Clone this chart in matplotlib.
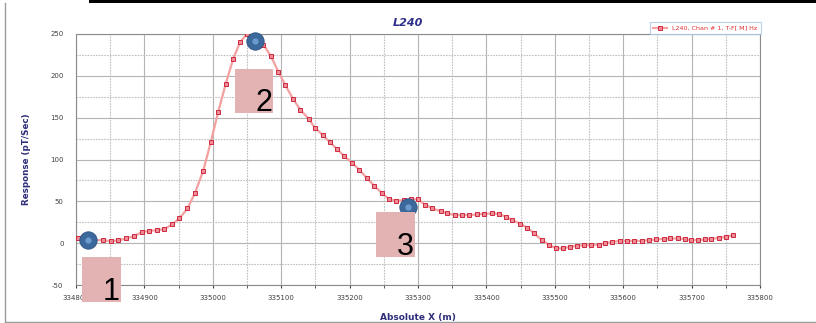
import numpy as np
import matplotlib
matplotlib.use("Agg")
from matplotlib import pyplot as plt
from matplotlib.patches import Rectangle

plt.rcParams['axes.unicode_minus'] = False

# survey stations (Absolute X, m) and channel response (pT/Sec)
x_abs = [334803, 334815, 334827, 334839, 334851, 334862, 334873, 334885, 334896, 334907,
         334918, 334929, 334941, 334951, 334963, 334974, 334986, 334997, 335008, 335019,
         335030, 335040, 335050, 335062, 335074, 335085, 335096, 335106, 335117, 335128,
         335140, 335149, 335161, 335171, 335182, 335192, 335203, 335214, 335225, 335236,
         335247, 335257, 335268, 335279, 335290, 335300, 335310, 335321, 335333, 335343,
         335354, 335365, 335375, 335386, 335397, 335408, 335418, 335429, 335438, 335449,
         335460, 335470, 335481, 335491, 335502, 335512, 335522, 335532, 335543, 335553,
         335564, 335574, 335584, 335595, 335606, 335616, 335627, 335638, 335648, 335659,
         335669, 335680, 335691, 335699, 335709, 335719, 335729, 335740, 335750, 335761]
response = [5.6, 4.2, 3.6, 3.6, 2.4, 3.2, 5.6, 8.4, 13.1, 14.7,
            15.5, 16.7, 22.7, 29.5, 41.5, 60.1, 86.4, 120.7, 157.1, 190.8,
            220.7, 240.5, 250.0, 247.0, 237.4, 223.4, 204.7, 188.8, 172.9, 159.5,
            148.7, 138.2, 129.0, 120.7, 112.3, 104.0, 96.4, 88.0, 78.0, 68.5,
            60.1, 52.9, 50.5, 51.4, 52.6, 52.2, 46.2, 41.5, 38.2, 35.5,
            33.5, 33.5, 33.5, 34.3, 35.0, 35.5, 35.0, 31.4, 27.5, 23.5,
            18.3, 11.6, 3.6, -1.6, -6.3, -6.3, -4.4, -3.2, -2.4, -2.4,
            -1.6, 0.0, 1.6, 2.7, 2.7, 2.7, 2.7, 3.6, 4.4, 5.1,
            5.6, 5.6, 4.8, 3.6, 3.6, 4.4, 5.1, 6.3, 7.5, 9.6]

x_ticks = [334800, 334900, 335000, 335100, 335200, 335300, 335400, 335500, 335600, 335700, 335800]
y_ticks = [-50, 0, 50, 100, 150, 200, 250]
series_label = "L240, Chan # 1, T-F[ M] Hz"
pick_names = ["1", "2", "3"]

W, H = 816, 323
fig = plt.figure(figsize=(W / 100, H / 100), dpi=100)
fig.patch.set_facecolor("white")

def fx(px):
    return px / W

def fy(py):
    return 1 - py / H

ax = fig.add_axes([fx(76), fy(285), fx(760) - fx(76), fy(34) - fy(285)])

ax.plot(x_abs, response, color="#f4a0a0", lw=1.6, marker="s", ms=3.2,
        mfc="#f08c96", mec="#cc2a40", mew=0.7, label=series_label, zorder=3)

ax.set_xlim(334800, 335800)
ax.set_ylim(-50, 250)
ax.set_xticks(x_ticks)
ax.set_yticks(y_ticks)
ax.set_xticks(np.arange(334850, 335800, 100), minor=True)
ax.set_yticks(np.arange(-25, 250, 50), minor=True)
ax.grid(True, which="major", color="#b4b4b4", lw=0.8)
ax.grid(True, which="minor", color="#c0c0c0", lw=0.8, ls=(0, (1.5, 1)))
ax.set_axisbelow(True)
ax.tick_params(axis="both", which="both", labelsize=5, colors="#404040", length=2, pad=5)
ax.tick_params(axis="y", which="both", length=0, pad=9)
for s in ax.spines.values():
    s.set_color("#8a8a8a")
    s.set_linewidth(0.8)

ax.set_title("L240", fontsize=8, fontweight="bold", fontstyle="italic",
             color="#2e2e8a", x=0.485, pad=6)
ax.set_xlabel("Absolute X (m)", fontsize=6.5, fontweight="bold", color="#2e2e7a", labelpad=9)
ax.set_ylabel("Response (pT/Sec)", fontsize=6.3, fontweight="bold", color="#2e2e7a", labelpad=14)

leg = ax.legend(loc="lower right", bbox_to_anchor=(1.003, 0.995), fontsize=4.6,
                frameon=True, fancybox=False, borderpad=0.5, handlelength=2.2,
                labelcolor="#e03030", borderaxespad=0.2)
leg.get_frame().set_edgecolor("#a8c4e4")
leg.get_frame().set_linewidth(0.8)

# blue pick circles (pixel positions of the overlay)
circles = [(88, 240), (255, 41), (408, 207)]
for cx, cy in circles:
    fig.add_artist(plt.Line2D([fx(cx)], [fy(cy)], marker="o", ms=12.5, color="#3c699c",
                              mec="#2d5284", mew=0.6, transform=fig.transFigure, zorder=6))
    fig.add_artist(plt.Line2D([fx(cx)], [fy(cy)], marker="o", ms=4.5, color="#6d9bd0",
                              mew=0, transform=fig.transFigure, zorder=7))

# pink label boxes with numbers
boxes = [(82, 257, 121, 302), (235, 69, 273, 113), (376, 212, 415, 257)]
for (x0, y0, x1, y1), name in zip(boxes, pick_names):
    fig.add_artist(Rectangle((fx(x0), fy(y1)), fx(x1) - fx(x0), fy(y0) - fy(y1),
                             transform=fig.transFigure, facecolor="#e3b3b3",
                             edgecolor="none", zorder=8))
    fig.text(fx(x1 - 1), fy(y1 - 2), name, fontsize=22, family="Liberation Sans",
             ha="right", va="baseline", color="black", zorder=9)

# screenshot frame bits
fig.add_artist(Rectangle((fx(89), fy(3)), 1 - fx(89), 3 / H, transform=fig.transFigure,
                         facecolor="black", edgecolor="none"))
fig.add_artist(plt.Line2D([fx(5), fx(5)], [fy(3), fy(321.5)], transform=fig.transFigure,
                          color="#9a9a9a", lw=1))
fig.add_artist(plt.Line2D([fx(5), 1], [fy(321.5), fy(321.5)], transform=fig.transFigure,
                          color="#9a9a9a", lw=1))

fig.savefig("out.png", dpi=100)
